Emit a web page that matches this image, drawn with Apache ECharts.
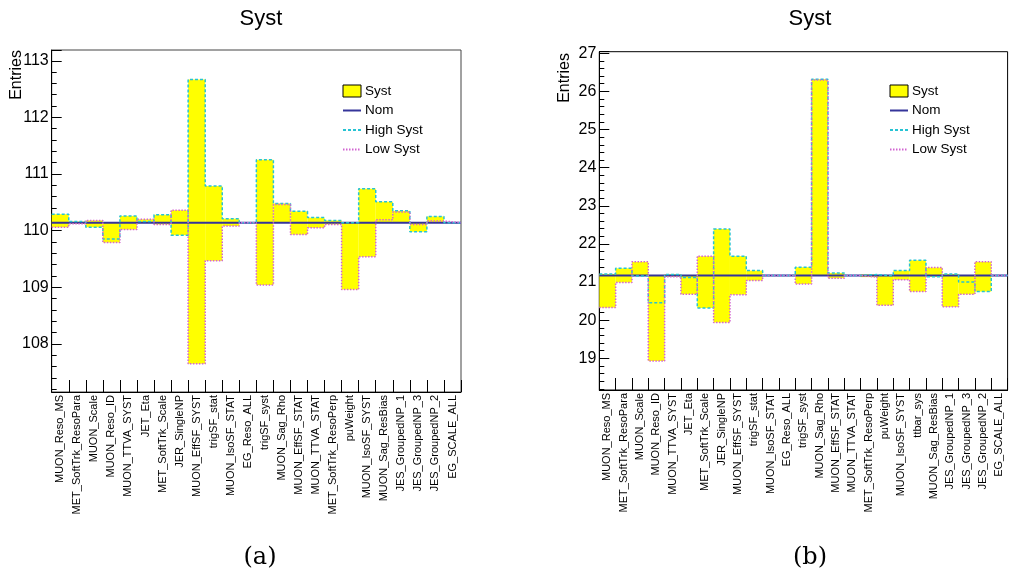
<!DOCTYPE html>
<html>
<head>
<meta charset="utf-8">
<script src="https://cdn.jsdelivr.net/npm/echarts@6/dist/echarts.min.js"></script>
<style>
html,body{margin:0;padding:0;background:#fff;}
#c{width:1010px;height:577px;}
</style>
</head>
<body>
<div id="c"></div>
<script>
// ---------- Panel (a) ----------
const catsA = ['MUON_Reso_MS','MET_SoftTrk_ResoPara','MUON_Scale','MUON_Reso_ID','MUON_TTVA_SYST','JET_Eta','MET_SoftTrk_Scale','JER_SingleNP','MUON_EffSF_SYST','trigSF_stat','MUON_IsoSF_STAT','EG_Reso_ALL','trigSF_syst','MUON_Sag_Rho','MUON_EffSF_STAT','MUON_TTVA_STAT','MET_SoftTrk_ResoPerp','puWeight','MUON_IsoSF_SYST','MUON_Sag_ResBias','JES_GroupedNP_1','JES_GroupedNP_3','JES_GroupedNP_2','EG_SCALE_ALL'];
const nomA = 110.14;
const highA = [110.29,110.16,110.06,109.85,110.26,110.16,110.28,109.92,112.67,110.79,110.21,110.14,111.25,110.48,110.34,110.23,110.18,110.14,110.74,110.51,110.35,109.98,110.25,110.14];
const lowA  = [110.06,110.12,110.18,109.79,110.02,110.20,110.11,110.36,107.65,109.47,110.08,110.14,109.04,110.46,109.93,110.05,110.11,108.96,109.54,110.19,110.33,110.11,110.17,110.14];
const yTicksA = {min:107.15, max:113.19};

// ---------- Panel (b) ----------
const catsB = ['MUON_Reso_MS','MET_SoftTrk_ResoPara','MUON_Scale','MUON_Reso_ID','MUON_TTVA_SYST','JET_Eta','MET_SoftTrk_Scale','JER_SingleNP','MUON_EffSF_SYST','trigSF_stat','MUON_IsoSF_STAT','EG_Reso_ALL','trigSF_syst','MUON_Sag_Rho','MUON_EffSF_STAT','MUON_TTVA_STAT','MET_SoftTrk_ResoPerp','puWeight','MUON_IsoSF_SYST','ttbar_sys','MUON_Sag_ResBias','JES_GroupedNP_1','JES_GroupedNP_3','JES_GroupedNP_2','EG_SCALE_ALL'];
const nomB = 21.17;
const highB = [21.21,21.36,21.16,20.46,21.20,21.12,20.32,22.39,21.68,21.30,21.17,21.17,21.39,26.32,21.24,21.17,21.20,21.16,21.30,21.57,21.14,21.21,21.00,20.75,21.17];
const lowB  = [20.33,20.99,21.53,18.93,21.14,20.68,21.68,19.94,20.67,21.04,21.17,21.17,20.95,26.30,21.10,21.17,21.13,20.39,21.06,20.75,21.38,20.35,20.68,21.53,21.17];
const yTicksB = {min:18.17, max:27.04};

const FONT = "'Liberation Sans', Arial, Helvetica, sans-serif";
const C_FILL = '#ffff00', C_NOM = '#35359a', C_HIGH = '#27c3d3', C_LOW = '#d264d2';

function steps(vals){
  const d = vals.map((v,i)=>[i,v]);
  d.push([vals.length, vals[vals.length-1]]);
  return d;
}
function bandRows(hi, lo, nom){
  return hi.map((h,i)=>[i, h, lo[i], nom]);
}
function renderBand(params, api){
  const i = api.value(0);
  const vals = [api.value(1), api.value(2), api.value(3)];
  const top = Math.max.apply(null, vals), bot = Math.min.apply(null, vals);
  const p1 = api.coord([i, top]);
  const p2 = api.coord([i+1, bot]);
  return {type:'rect', shape:{x:p1[0], y:p1[1], width:p2[0]-p1[0], height:p2[1]-p1[1]}, style:{fill:C_FILL}};
}
function intLabel(v){
  const r = Math.round(v);
  return Math.abs(v - r) < 1e-6 ? String(r) : '';
}

function panelSeries(idx, hi, lo, nom){
  const xi = idx*2+1, yi = idx;
  const nomVals = hi.map(()=>nom);
  return [
    {name:'Syst', type:'custom', xAxisIndex:xi, yAxisIndex:yi, renderItem:renderBand,
     data:bandRows(hi, lo, nom), encode:{x:0, y:[1,2]}, itemStyle:{color:C_FILL}, z:1, silent:true},
    {name:'Nom', type:'line', xAxisIndex:xi, yAxisIndex:yi, step:'end', symbol:'none',
     data:steps(nomVals), lineStyle:{color:C_NOM, width:2}, itemStyle:{color:C_NOM}, z:2, silent:true},
    {name:'High Syst', type:'line', xAxisIndex:xi, yAxisIndex:yi, step:'end', symbol:'none',
     data:steps(hi), lineStyle:{color:C_HIGH, width:1.5, type:[3,2]}, itemStyle:{color:C_HIGH}, z:3, silent:true},
    {name:'Low Syst', type:'line', xAxisIndex:xi, yAxisIndex:yi, step:'end', symbol:'none',
     data:steps(lo), lineStyle:{color:C_LOW, width:1.5, type:[1.5,1.5]}, itemStyle:{color:C_LOW}, z:4, silent:true}
  ];
}

function catAxis(grid, cats){
  return {type:'category', gridIndex:grid, data:cats, boundaryGap:true,
    axisLine:{show:true, lineStyle:{color:'#000', width:1}},
    axisTick:{show:true, inside:true, length:12, interval:0, alignWithLabel:false, lineStyle:{color:'#000'}},
    axisLabel:{show:true, interval:0, rotate:90, margin:3, fontSize:11, fontFamily:FONT, color:'#000'},
    splitLine:{show:false}};
}
function valXAxis(grid, n){
  return {type:'value', gridIndex:grid, min:0, max:n, show:false};
}
function valYAxis(grid, ext){
  return {type:'value', gridIndex:grid, min:ext.min, max:ext.max, minInterval:1, maxInterval:1,
    axisLine:{show:true, lineStyle:{color:'#000', width:1}},
    axisTick:{show:true, inside:true, length:10, lineStyle:{color:'#000'}},
    minorTick:{show:true, splitNumber:5, length:5, lineStyle:{color:'#000'}},
    axisLabel:{show:true, margin:3, fontSize:16, fontFamily:FONT, color:'#000', formatter:intLabel},
    splitLine:{show:false}, minorSplitLine:{show:false}};
}
function legendAt(left, top){
  return {orient:'vertical', left:left, top:top, itemWidth:18, itemHeight:12, itemGap:5.5,
    selectedMode:false,
    textStyle:{fontSize:13.5, lineHeight:14, fontFamily:FONT, color:'#000', padding:[0,0,0,-1]},
    data:[
      {name:'Syst', icon:'rect', itemStyle:{color:C_FILL, borderColor:'#000', borderWidth:1}},
      {name:'Nom', itemStyle:{opacity:0}},
      {name:'High Syst', itemStyle:{opacity:0}},
      {name:'Low Syst', itemStyle:{opacity:0}}
    ]};
}

const chart = echarts.init(document.getElementById('c'), null, {renderer:'canvas'});
chart.setOption({
  animation:false,
  backgroundColor:'#fff',
  title:[
    {text:'Syst', left:256, top:3, textAlign:'center', textStyle:{fontSize:22, fontWeight:'normal', fontFamily:FONT, color:'#000'}},
    {text:'Syst', left:805, top:3, textAlign:'center', textStyle:{fontSize:22, fontWeight:'normal', fontFamily:FONT, color:'#000'}},
    {text:'(a)', left:255, top:541, textAlign:'center', textStyle:{fontSize:24, fontWeight:'normal', fontFamily:"'DejaVu Serif', serif", color:'#000'}},
    {text:'(b)', left:805, top:541, textAlign:'center', textStyle:{fontSize:24, fontWeight:'normal', fontFamily:"'DejaVu Serif', serif", color:'#000'}}
  ],
  legend:[legendAt(337, 79), legendAt(884, 79)],
  grid:[
    {left:51.7, top:50, width:409.3, height:342, show:true, borderColor:'#444', borderWidth:1, backgroundColor:'transparent', containLabel:false},
    {left:599.3, top:51.7, width:408.3, height:338.3, show:true, borderColor:'#000', borderWidth:1, backgroundColor:'transparent', containLabel:false}
  ],
  xAxis:[catAxis(0, catsA), valXAxis(0, catsA.length), catAxis(1, catsB), valXAxis(1, catsB.length)],
  yAxis:[valYAxis(0, yTicksA), valYAxis(1, yTicksB)],
  graphic:[
    {type:'text', x:16.5, y:50, rotation:Math.PI/2, style:{text:'Entries', fontSize:16, fontFamily:FONT, fill:'#000', align:'right', verticalAlign:'middle'}},
    {type:'text', x:565, y:53, rotation:Math.PI/2, style:{text:'Entries', fontSize:16, fontFamily:FONT, fill:'#000', align:'right', verticalAlign:'middle'}}
  ],
  series:[].concat(panelSeries(0, highA, lowA, nomA), panelSeries(1, highB, lowB, nomB))
});
</script>
</body>
</html>
